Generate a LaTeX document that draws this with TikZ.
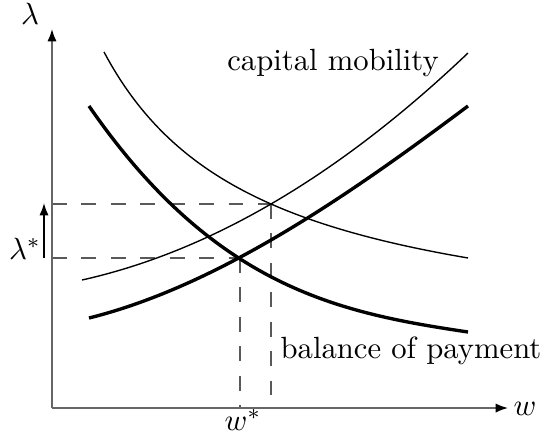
\documentclass[tikz,border=0pt]{standalone}
\usetikzlibrary{arrows.meta}
\begin{document}
\begin{tikzpicture}[x=0.326pt,y=-0.326pt,
  axis/.style={draw=black!60, line width=0.5pt, -{Latex[length=4pt,width=3pt,black]}},
  guide/.style={draw=black!65, line width=0.4pt, dash pattern=on 4.8pt off 4.8pt},
  thincurve/.style={draw=black, line width=0.45pt},
  thickcurve/.style={draw=black, line width=1.1pt},
  lbl/.style={inner sep=0pt, font=\normalsize}]
\useasboundingbox (0,0) rectangle (545,440);
\coordinate (O) at (52,408);
\coordinate (X) at (508,408);
\coordinate (Y) at (52,29);
\coordinate (E) at (240,258);
\coordinate (F) at (271,204);
\coordinate (Ey) at (52,258);
\coordinate (Fy) at (52,204);
\coordinate (Ex) at (240,408);
\coordinate (Fx) at (271,408);
\coordinate (A0) at (44,258);
\coordinate (A1) at (44,203);
% guides
\draw[guide] (Fy) -- (F);
\draw[guide] (Ey) -- (E);
\draw[guide] (E) -- (Ex);
\draw[guide] (F) -- (Fx);
% axes
\draw[axis] (O) -- (X);
\draw[axis] (O) -- (Y);
% shift arrow
\draw[line width=0.5pt, -{Latex[length=4pt,width=3pt]}] (A0) -- (A1);
% curves
\draw[thincurve] plot[domain=104:468, samples=90] (\x, {346.7 - 462.12/((\x+52.8)/100)});
\draw[thickcurve] (89,106) .. controls (215.3,289.1) and (341.7,313.1) .. (468,332);
\draw[thincurve] (82,280) .. controls (210.7,251.2) and (339.3,175.5) .. (468,53);
\draw[thickcurve] (89,318) .. controls (215,286.5) and (342,200.5) .. (468,106);
% labels
\node[lbl] (lam) at (30,14) {$\lambda$};
\node[lbl] (w) at (525,409) {$w$};
\node[lbl] (lamstar) at (25,249) {$\lambda^{*}$};
\node[lbl] (wstar) at (243,420) {$w^{*}$};
\node[lbl] (cm) at (333,63) {capital mobility};
\node[lbl] (bp) at (411,351) {balance of payment};
\end{tikzpicture}
\end{document}
